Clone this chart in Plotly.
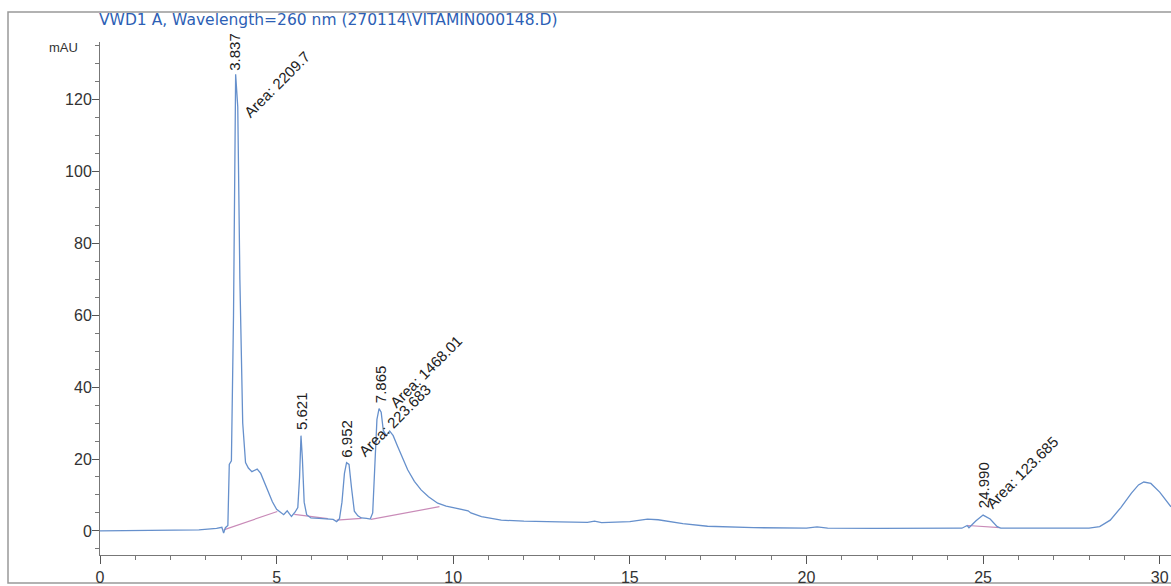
import plotly.graph_objects as go

# ---- data ----
time_min = [0.0, 1.0, 2.0, 2.8, 3.3, 3.45, 3.5, 3.55, 3.62, 3.66, 3.72, 3.78, 3.84, 3.90, 3.96,
            4.04, 4.12, 4.2, 4.3, 4.45, 4.55, 4.65, 4.75, 4.88, 5.0, 5.1, 5.2, 5.3, 5.42, 5.52,
            5.6, 5.65, 5.69, 5.73, 5.78, 5.85, 5.97, 6.2, 6.45, 6.6, 6.7, 6.78, 6.85, 6.92, 6.98,
            7.05, 7.12, 7.2, 7.3, 7.4, 7.55, 7.65, 7.72, 7.78, 7.84, 7.9, 7.96, 8.02, 8.1, 8.2,
            8.3, 8.43, 8.57, 8.71, 8.9, 9.09, 9.3, 9.56, 9.8, 10.03, 10.25, 10.42, 10.5, 10.8,
            11.36, 12.0, 13.0, 13.8, 14.0, 14.2, 15.0, 15.5, 15.8, 16.5, 17.2, 17.9, 18.5, 20.0,
            20.3, 20.6, 22.0, 24.4, 24.55, 24.6, 24.8, 25.0, 25.2, 25.4, 25.5, 26.5, 27.5, 28.0,
            28.3, 28.6, 28.9, 29.2, 29.4, 29.55, 29.75, 30.0, 30.32]
signal_mau = [0.0, 0.05, 0.1, 0.3, 0.7, 1.0, -0.6, 0.9, 1.5, 18.5, 19.5, 60, 127, 118, 70,
              30, 19, 17.5, 16.5, 17.2, 16.0, 13.5, 11.2, 8.1, 6.0, 5.3, 4.5, 5.6, 4.0, 5.2,
              6.5, 15, 26.5, 20, 8, 4.5, 3.6, 3.5, 3.4, 3.2, 2.6, 3.4, 8, 16, 19.0,
              18.5, 12, 5.5, 4.2, 3.6, 3.5, 3.3, 5, 20, 31, 34, 33, 28, 26.5, 27.8,
              26.5, 23.4, 20, 17, 13.8, 11.4, 9.5, 7.7, 6.9, 6.4, 5.8, 5.6, 5.0, 4.0,
              3.0, 2.7, 2.5, 2.4, 2.7, 2.3, 2.6, 3.3, 3.1, 2.0, 1.3, 1.1, 0.9, 0.8,
              1.1, 0.8, 0.7, 0.75, 1.5, 0.9, 2.8, 4.4, 3.3, 1.2, 0.8, 0.75, 0.75, 0.8,
              1.2, 3.0, 6.5, 10.5, 12.8, 13.6, 13.2, 10.8, 6.7]

# integration baselines (start/end time, start/end mAU)
base_t0 = [3.5, 5.5, 6.7, 7.67, 24.57]
base_t1 = [5.02, 6.45, 7.4, 9.61, 25.47]
base_v0 = [0.3, 4.6, 3.0, 3.2, 1.5]
base_v1 = [5.4, 3.4, 3.5, 6.75, 0.9]

# peak labels: retention time text, label x, label bottom y
rt_text = ["3.837", "5.621", "6.952", "7.865", "24.990"]
rt_x = [3.80, 5.69, 6.99, 7.93, 25.0]
rt_y = [127.5, 27.5, 19.8, 35.0, 5.8]

area_text = ["Area: 2209.7", "Area: 223.683", "Area: 1468.01", "Area: 123.685"]
area_x = [5.0, 8.34, 9.23, 26.1]
area_y = [124.2, 30.6, 44.3, 16.3]

x_ticks = [0, 5, 10, 15, 20, 25, 30]
y_ticks = [0, 20, 40, 60, 80, 100, 120]

title_text = "VWD1 A, Wavelength=260 nm (270114\\VITAMIN000148.D)"

# ---- figure ----
fig = go.Figure()

bx, by = [], []
for a, b, c, d in zip(base_t0, base_t1, base_v0, base_v1):
    bx += [a, b, None]
    by += [c, d, None]
fig.add_trace(go.Scatter(x=bx, y=by, mode="lines",
                         line=dict(color="#c98bb8", width=1.2),
                         hoverinfo="skip", showlegend=False))

fig.add_trace(go.Scatter(x=time_min, y=signal_mau, mode="lines",
                         line=dict(color="#6690cc", width=1.3),
                         showlegend=False))

font_main = "Liberation Sans, Arial, sans-serif"

for t, x, y in zip(rt_text, rt_x, rt_y):
    fig.add_annotation(x=x, y=y, text=t, showarrow=False, textangle=-90,
                       xanchor="center", yanchor="bottom",
                       font=dict(family=font_main, size=15, color="#222"))
for t, x, y in zip(area_text, area_x, area_y):
    fig.add_annotation(x=x, y=y, text=t, showarrow=False, textangle=-45,
                       xanchor="center", yanchor="middle",
                       font=dict(family=font_main, size=15, color="#222"))

fig.add_annotation(xref="paper", x=-0.0028, yref="paper", y=1.043, text=title_text,
                   showarrow=False, xanchor="left", yanchor="middle",
                   font=dict(family="DejaVu Sans, sans-serif", size=15.5, color="#2d5fb5"))
fig.add_annotation(xref="paper", x=0, y=134.5, text="mAU", showarrow=False,
                   xanchor="right", yanchor="middle", xshift=-20,
                   font=dict(family=font_main, size=13, color="#333"))

fig.add_shape(type="rect", xref="paper", yref="paper",
              x0=-0.0859, x1=1.02, y0=-0.0546, y1=1.0585,
              line=dict(color="#999", width=1.5), layer="below")

fig.update_layout(
    width=1171, height=586,
    margin=dict(l=100, r=0, t=42, b=31),
    paper_bgcolor="white", plot_bgcolor="white",
    font=dict(family=font_main, size=16, color="#333"),
    xaxis=dict(range=[0, 30.32], tickvals=x_ticks, ticks="outside", ticklen=8,
               tickcolor="#555", showline=True, linecolor="#777", linewidth=1,
               showgrid=False, zeroline=False,
               minor=dict(dtick=1, ticks="outside", ticklen=4, tickcolor="#777")),
    yaxis=dict(range=[-6.7, 136], tickvals=y_ticks, ticks="outside", ticklen=7,
               tickcolor="#555", showline=True, linecolor="#777", linewidth=1,
               showgrid=False, zeroline=False, ticklabelstandoff=-3,
               minor=dict(dtick=5, ticks="outside", ticklen=4, tickcolor="#777")),
)

fig.write_html("out.html", config={"displayModeBar": False},
               post_script="document.body.style.margin='0';document.body.style.overflow='hidden';")
